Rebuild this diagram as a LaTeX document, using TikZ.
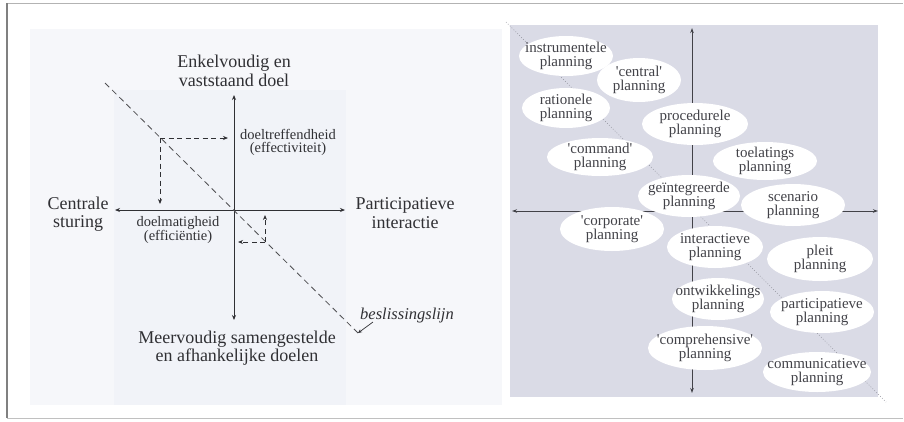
\documentclass[tikz,border=0pt]{standalone}
\usepackage{fontspec}
\setmainfont{Liberation Serif}
\usetikzlibrary{shapes.geometric,arrows.meta}
\definecolor{frameline}{RGB}{128,128,128}
\definecolor{leftbg}{RGB}{246,247,250}
\definecolor{leftinner}{RGB}{241,243,248}
\definecolor{rightbg}{RGB}{218,219,230}
\definecolor{ink}{RGB}{48,48,52}
\definecolor{inkr}{RGB}{66,66,72}
\definecolor{dotline}{RGB}{140,140,150}
\newcommand{\sq}{\textquotesingle}
\tikzset{
  axis/.style={draw=ink, line width=0.9pt, {Stealth[length=5pt,width=4pt]}-{Stealth[length=5pt,width=4pt]}},
  raxis/.style={draw=inkr, line width=0.9pt, {Stealth[length=5pt,width=3.5pt]}-{Stealth[length=5pt,width=3.5pt]}},
  guide/.style={draw=ink, line width=0.8pt, dash pattern=on 5pt off 3.5pt, -{Stealth[length=5pt,width=4pt]}},
  decision/.style={draw=ink!85, line width=0.8pt, dash pattern=on 6pt off 4pt},
  biglabel/.style={font=\fontsize{18}{18.5}\selectfont, text=ink, align=center, inner sep=0pt},
  smalllabel/.style={font=\fontsize{14.5}{13}\selectfont, text=ink, align=center, inner sep=0pt},
  plantext/.style={inner sep=0pt, font=\fontsize{15}{14}\selectfont, text=inkr, align=center},
  planfill/.style={fill=white},
}
% white ellipse of fixed radii with a two-line label on top
\newcommand{\plannode}[5]{%
  \fill[planfill] (#2) ellipse [x radius=#3, y radius=#4];
  \node[plantext] (#1) at (#2) {#5};}
\begin{document}
\begin{tikzpicture}[x=1pt,y=-1pt]
\useasboundingbox (0,0) rectangle (904,421);
\fill[white] (0,0) rectangle (904,421);
% outer frame
\draw[frameline!60, line width=1pt] (7,3) -- (903,3);
\draw[frameline!50, line width=1pt] (7,418) -- (903,418);
\draw[frameline, line width=2pt] (7,3) -- (7,418);

% ---------------- left panel ----------------
\fill[leftbg] (30,29) rectangle (502,405);
\fill[leftinner] (114,90) rectangle (346,405);

\coordinate (vtop) at (234,95);
\coordinate (vbot) at (234,320);
\coordinate (hleft) at (115,210);
\coordinate (hright) at (345,210);
\draw[axis] (vbot) -- (vtop);
\draw[axis] (hleft) -- (hright);

% decision line and guides
\coordinate (dstart) at (105,83);
\coordinate (dend) at (358,333);
\draw[decision] (dstart) -- (dend);
\coordinate (c1) at (160,138);
\coordinate (c1h) at (228,138);
\coordinate (c1v) at (160,204);
\coordinate (c2) at (265,242);
\coordinate (c2h) at (238,242);
\coordinate (c2v) at (265,215);
\draw[guide] (c1) -- (c1h);
\draw[guide] (c1) -- (c1v);
\draw[guide] (c2) -- (c2h);
\draw[guide] (c2) -- (c2v);

\node[biglabel] (top) at (234,71) {Enkelvoudig en\\vaststaand doel};
\node[biglabel] (bot) at (237,348) {Meervoudig samengestelde\\en afhankelijke doelen};
\node[biglabel] (lft) at (78,214) {Centrale\\sturing};
\node[biglabel] (rgt) at (405,213) {Participatieve\\interactie};
\node[smalllabel] (eff) at (288,142) {doeltreffendheid\\(effectiviteit)};
\node[smalllabel] (effi) at (178,230) {doelmatigheid\\(efficiëntie)};
\node[biglabel, font=\fontsize{16.5}{18}\selectfont\itshape] (besl) at (407,316) {beslissingslijn};
\draw[draw=ink, line width=0.7pt, -{Stealth[length=4pt,width=3.5pt]}] (373,322) -- (dend);

% ---------------- right panel ----------------
\fill[rightbg] (510,25) rectangle (878,397);
\coordinate (rtop) at (692,28);
\coordinate (rbot) at (692,393);
\coordinate (rleft) at (512,211);
\coordinate (rright) at (878,211);
\draw[raxis] (rbot) -- (rtop);
\draw[raxis] (rleft) -- (rright);
\coordinate (dtl) at (506,22);
\coordinate (dbr) at (886,402);
\draw[dotline, line width=0.7pt, dotted] (dtl) -- (dbr);

\plannode{instr}{566,56}{47}{20}{instrumentele\\planning}
\plannode{central}{639,80}{42}{22}{\sq central\sq\\planning}
\plannode{ratio}{566,108}{44}{20}{rationele\\planning}
\plannode{proc}{695,124}{53}{21}{procedurele\\planning}
\plannode{command}{600,157}{53}{19}{\sq command\sq\\planning}
\plannode{toel}{765,161}{52}{19}{toelatings\\planning}
\plannode{geint}{689,196}{51}{21}{geïntegreerde\\planning}
\plannode{scen}{793,205}{52}{21}{scenario\\planning}
\plannode{corp}{612,229}{52}{22}{\sq corporate\sq\\planning}
\plannode{inter}{715,247}{48}{21}{interactieve\\planning}
\plannode{pleit}{820,259}{53}{22}{pleit\\planning}
\plannode{ontw}{718,299}{46}{21}{ontwikkelings\\planning}
\plannode{partic}{822,312}{52}{21}{participatieve\\planning}
\plannode{compr}{705,348}{57}{22}{\sq comprehensive\sq\\planning}
\plannode{commu}{817,372}{54}{20}{communicatieve\\planning}
\end{tikzpicture}
\end{document}
